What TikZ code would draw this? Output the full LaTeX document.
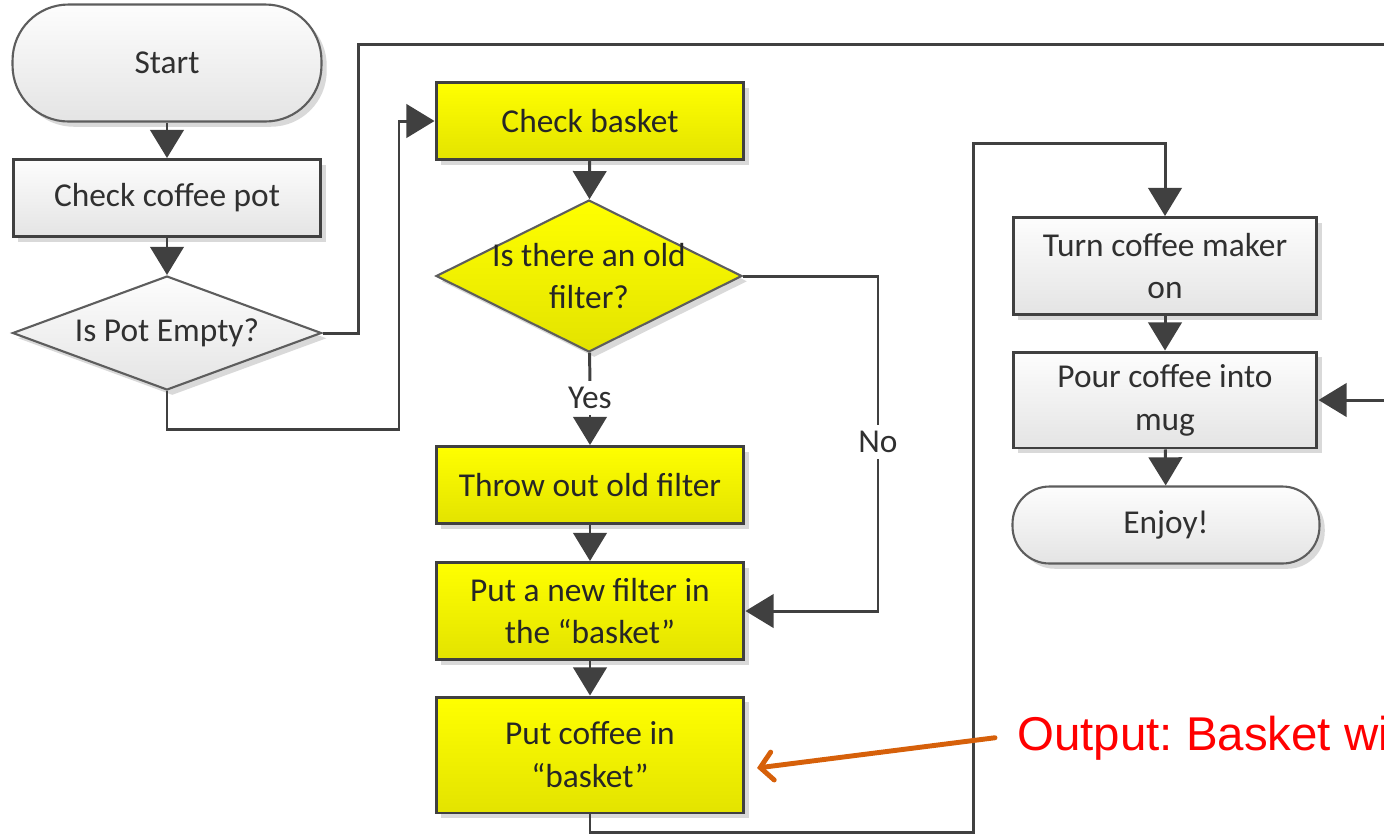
\documentclass[tikz,border=0pt]{standalone}
\usepackage{fontspec}
\setmainfont{Carlito}
\newfontfamily\arialfont{Liberation Sans}
\usetikzlibrary{shapes.geometric,arrows.meta,shadows}
\definecolor{edge}{HTML}{404040}
\definecolor{txtgray}{HTML}{303030}
\definecolor{boxtop}{HTML}{FDFDFD}
\definecolor{boxbot}{HTML}{E4E4E4}
\definecolor{yeltop}{HTML}{FFFF00}
\definecolor{yelbot}{HTML}{E3E300}
\definecolor{outorange}{RGB}{214,96,10}

\begin{document}
\begin{tikzpicture}[x=0.02cm,y=-0.02cm,
    font=\fontsize{19}{24.4}\selectfont,
    every node/.style={text=txtgray},
    shade box/.style={drop shadow={shadow xshift=3pt,shadow yshift=-3pt,opacity=.15,fill=black}},
    gray box/.style={rectangle,draw=edge,line width=1.7pt,top color=boxtop,bottom color=boxbot,
        shade box,align=center,minimum width=6.16cm,minimum height=1.54cm,inner sep=2pt},
    yellow box/.style={gray box,top color=yeltop,bottom color=yelbot,text=black!85},
    terminal/.style={rectangle,rounded corners=#1,draw=edge!85,line width=1.2pt,
        top color=boxtop,bottom color=boxbot,shade box,minimum width=6.18cm},
    decision/.style={diamond,draw=edge!85,line width=1.2pt,top color=boxtop,bottom color=boxbot,
        shade box,inner sep=0pt},
    link/.style={draw=edge,line width=1.7pt},
    arr/.style={link,-{Triangle[length=16pt,width=19pt]}}]

    \useasboundingbox (0,0) rectangle (1384,833);
    \clip (0,0) rectangle (1384,833);

    % left column
    \node[terminal=1.12cm,minimum height=2.34cm] (start) at (167,63) {Start};
    \node[gray box] (checkpot) at (167,198) {Check coffee pot};
    \node[decision,minimum width=6.18cm,minimum height=2.28cm,
        label={center:Is Pot Empty?}] (potempty) at (167,333) {};

    % middle column
    \node[yellow box] (basket) at (590,121) {Check basket};
    \node[decision,top color=yeltop,bottom color=yelbot,minimum width=6.12cm,minimum height=3.04cm,
        label={[align=center,text=black!85]center:Is there an old\\filter?}] (oldfilter) at (589,276) {};
    \node (yes) at (590,398) {Yes};
    \node[yellow box] (throw) at (590,485) {Throw out old filter};
    \node[yellow box,minimum height=1.94cm] (newfilter) at (590,611) {Put a new filter in\\the “basket”};
    \node[yellow box,minimum height=2.32cm] (coffee) at (590,755) {Put coffee in\\“basket”};
    \node (no) at (878,442) {No};

    % right column
    \node[gray box,minimum width=6.08cm,minimum height=1.94cm] (turnon) at (1165,266) {Turn coffee maker\\on};
    \node[gray box,minimum width=6.08cm,minimum height=1.92cm] (pour) at (1165,400) {Pour coffee into\\mug};
    \node[terminal=0.74cm,minimum width=6.14cm,minimum height=1.54cm] (enjoy) at (1166,525) {Enjoy!};

    \node[anchor=base west,text=red,font=\arialfont\fontsize{27}{30}\selectfont\frenchspacing,
        inner xsep=0.44cm,inner ysep=0pt] (output) at (995,750) {Output: Basket wi};

    \coordinate (offtop) at (1384,44);
    \coordinate (offpour) at (1384,400);
    \coordinate (outtip) at (757,768);

    \draw[arr] (start) -- (checkpot);
    \draw[arr] (checkpot) -- (potempty);
    \draw[link] (potempty.east) -- ++(36,0) |- (offtop);
    \draw[arr] (potempty.south) -- ++(0,38) -- ++(232,0) |- (basket.west);
    \draw[arr] (basket) -- (oldfilter);
    \draw[link] (oldfilter) -- (yes);
    \draw[arr] (yes) -- (throw);
    \draw[link] (oldfilter.east) -| (no);
    \draw[arr] (no) |- (newfilter.east);
    \draw[arr] (throw) -- (newfilter);
    \draw[arr] (newfilter) -- (coffee);
    \draw[arr] (coffee.south) -- ++(0,18) -- ++(383,0) -- ++(0,-689) -| (turnon.north);
    \draw[arr] (turnon) -- (pour);
    \draw[arr] (pour) -- (enjoy);
    \draw[arr] (offpour) -- (pour.east);
    \draw[outorange,line width=2.8pt,line cap=round,-{Straight Barb[length=7pt,width=16pt,line cap=round]}]
        (output.west) -- (outtip);
\end{tikzpicture}
\end{document}
